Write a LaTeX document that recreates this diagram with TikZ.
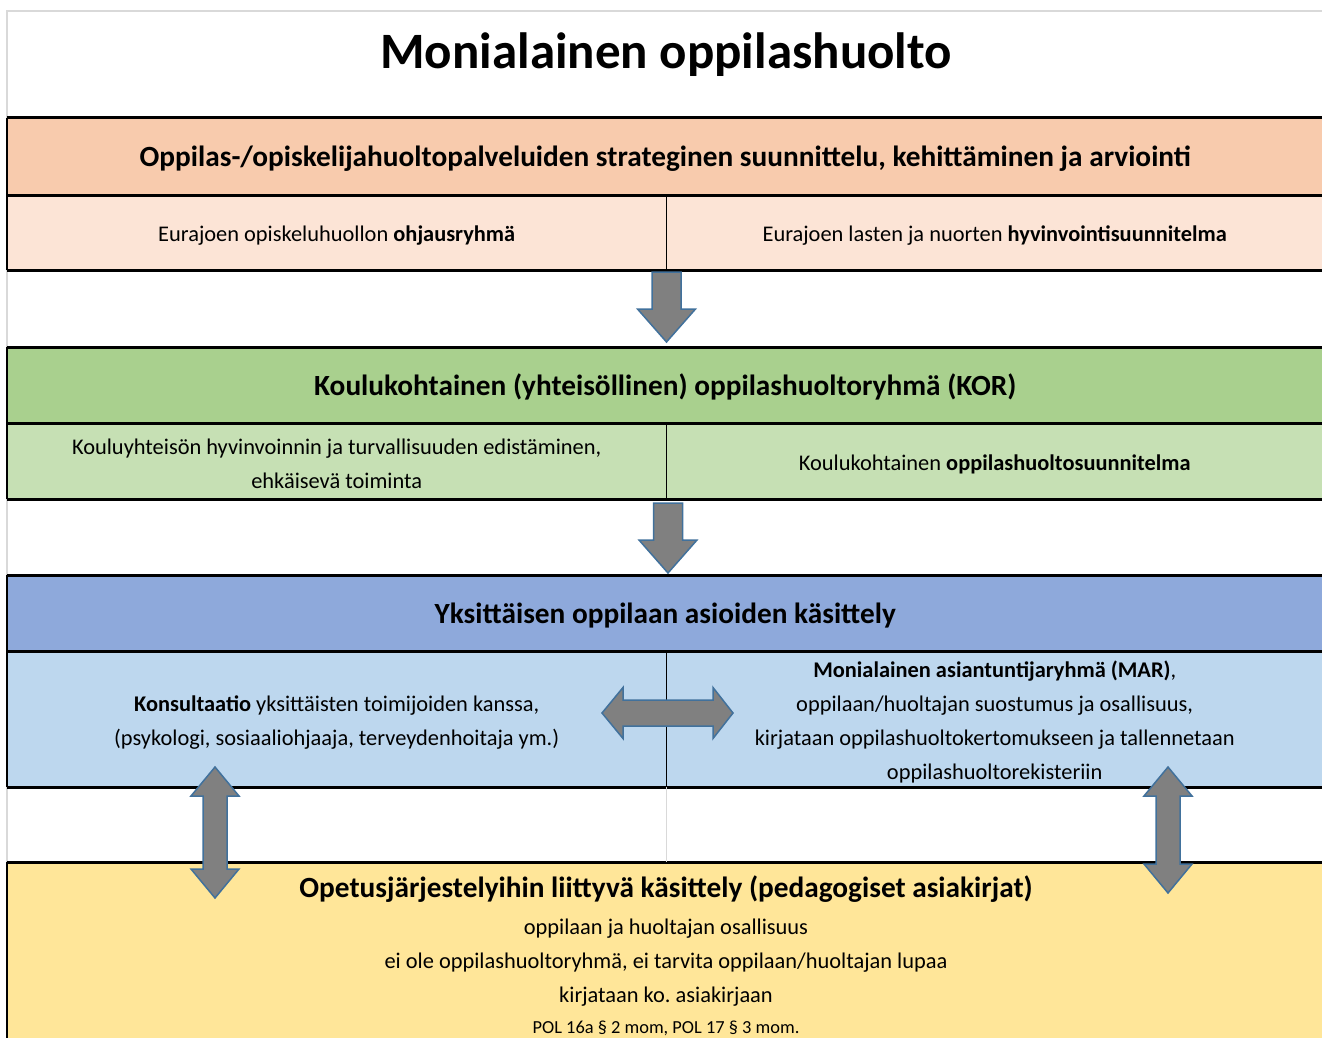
\documentclass[tikz,border=0pt]{standalone}
\usepackage{fontspec}
\setmainfont{Carlito}
\usepackage{tikz}
\usetikzlibrary{positioning}
\frenchspacing

\definecolor{stratfill}{HTML}{F8CBAD}
\definecolor{stratcell}{HTML}{FCE4D6}
\definecolor{korfill}{HTML}{A9D08E}
\definecolor{korcell}{HTML}{C6E0B4}
\definecolor{yksfill}{HTML}{8EA9DB}
\definecolor{ykscell}{HTML}{BDD7EE}
\definecolor{opefill}{HTML}{FFE699}
\definecolor{arrgray}{HTML}{808080}
\definecolor{arrblue}{HTML}{41719C}
\definecolor{framegray}{HTML}{D9D9D9}

\begin{document}
\begin{tikzpicture}[x=1pt,y=-1pt,
                    band/.style n args={3}{fill=#1,
                    minimum width=#2, minimum height=#3,
                    inner sep=0, anchor=north west, rectangle},
                    celltxt/.style={align=center, yshift=-3pt,
                    font=\fontsize{22.4}{34}\selectfont},
                    hdr/.style={yshift=-2pt, font=\fontsize{29.3}{32}\selectfont\bfseries},
                    bandline/.style={line width=3},
                    divline/.style={line width=1.2},
                    blockarr/.style={draw=arrblue, fill=arrgray, line width=1.5, line join=miter},
                    pics/downarr/.style={code={
                        \draw[blockarr] (-14.5,0) -- (14.5,0) -- (14.5,37) -- (29,37)
                            -- (0,70) -- (-29,37) -- (-14.5,37) -- cycle;}},
                    pics/vdouble/.style={code={
                        \draw[blockarr] (0,0) -- (24,29) -- (12,29) -- (12,{#1-29})
                            -- (24,{#1-29}) -- (0,#1) -- (-24,{#1-29}) -- (-12,{#1-29})
                            -- (-12,29) -- (-24,29) -- cycle;}},
                    pics/hdouble/.style={code={
                        \draw[blockarr] (-65,0) -- (-44,-25.5) -- (-44,-13) -- (46,-13)
                            -- (46,-25.5) -- (66,0) -- (46,25.5) -- (46,13) -- (-44,13)
                            -- (-44,25.5) -- cycle;}}]
    \useasboundingbox (0,0) rectangle (1322,1038);
    \fill[white] (0,0) rectangle (1322,1038);
    \draw[framegray, line width=1.5] (7,1038) -- (7,11) -- (1322,11);

    % title
    \node[font=\fontsize{51}{54}\selectfont\bfseries] (title) at (666,55) {Monialainen oppilashuolto};

    % strategic level
    \node[band={stratfill}{1316}{77}] (strat) at (7,118) {};
    \node[hdr] (strattxt) at (strat.center) {Oppilas-/opiskelijahuoltopalveluiden strateginen suunnittelu, kehittäminen ja arviointi};
    \node[band={stratcell}{659}{75}] (ohj) at (7,195) {};
    \node[band={stratcell}{657}{75}] (hyv) at (666,195) {};
    \node[celltxt] (ohjtxt) at (ohj.center) {Eurajoen opiskeluhuollon \textbf{ohjausryhmä}};
    \node[celltxt] (hyvtxt) at (hyv.center) {Eurajoen lasten ja nuorten \textbf{hyvinvointisuunnitelma}};

    % school level
    \node[band={korfill}{1316}{76}] (kor) at (7,347) {};
    \node[hdr] (kortxt) at (kor.center) {Koulukohtainen (yhteisöllinen) oppilashuoltoryhmä (KOR)};
    \node[band={korcell}{659}{76}] (yht) at (7,423) {};
    \node[band={korcell}{657}{76}] (ohs) at (666,423) {};
    \node[celltxt] (yhttxt) at (yht.center) {Kouluyhteisön hyvinvoinnin ja turvallisuuden edistäminen,\\ ehkäisevä toiminta};
    \node[celltxt] (ohstxt) at (ohs.center) {Koulukohtainen \textbf{oppilashuoltosuunnitelma}};

    % individual level
    \node[band={yksfill}{1316}{76}] (yks) at (7,575) {};
    \node[hdr] (ykstxt) at (yks.center) {Yksittäisen oppilaan asioiden käsittely};
    \node[band={ykscell}{659}{136}] (kons) at (7,651) {};
    \node[band={ykscell}{657}{136}] (mar) at (666,651) {};
    \node[celltxt] (konstxt) at (kons.center) {\textbf{Konsultaatio} yksittäisten toimijoiden kanssa,\\ (psykologi, sosiaaliohjaaja, terveydenhoitaja ym.)};
    \node[celltxt] (martxt) at (mar.center) {\textbf{Monialainen asiantuntijaryhmä (MAR)},\\ oppilaan/huoltajan suostumus ja osallisuus,\\ kirjataan oppilashuoltokertomukseen ja tallennetaan\\ oppilashuoltorekisteriin};

    % pedagogical documents
    \node[band={opefill}{1316}{190}] (ope) at (7,862) {};
    \node[hdr, yshift=1pt] (opetxt) at (666,888) {Opetusjärjestelyihin liittyvä käsittely (pedagogiset asiakirjat)};
    \node[celltxt, yshift=2pt] (opebody) at (666,962) {oppilaan ja huoltajan osallisuus\\ ei ole oppilashuoltoryhmä, ei tarvita oppilaan/huoltajan lupaa\\ kirjataan ko. asiakirjaan};
    \node[font=\fontsize{18.4}{20}\selectfont] (pol) at (666,1028) {POL 16a § 2 mom, POL 17 § 3 mom.};

    % borders
    \foreach \n in {strat,kor,yks,ope}
        \draw[bandline] (\n.north west) -- (\n.north east);
    \foreach \n in {strat,kor,yks}
        \draw[bandline] (\n.south west) -- (\n.south east);
    \draw[bandline] (ohj.south west) -- (hyv.south east);
    \draw[bandline] (yht.south west) -- (ohs.south east);
    \draw[bandline] (kons.south west) -- (mar.south east);
    \draw[divline] (strat.north west) -- (ohj.south west);
    \draw[divline] (kor.north west) -- (yht.south west);
    \draw[divline] (yks.north west) -- (kons.south west);
    \draw[divline] (ope.north west) -- (7,1038);
    \draw[divline] (ohj.north east) -- (ohj.south east);
    \draw[divline] (yht.north east) -- (yht.south east);
    \draw[divline] (kons.north east) -- (kons.south east);
    \draw[divline, framegray] (kons.south east) -- (kons.south east |- ope.north);

    % arrows
    \pic at (666.5,272) {downarr};
    \pic at (668,503) {downarr};
    \pic at (667,713) {hdouble};
    \pic at (215,767) {vdouble=131};
    \pic at (1168,767) {vdouble=126};
\end{tikzpicture}
\end{document}
